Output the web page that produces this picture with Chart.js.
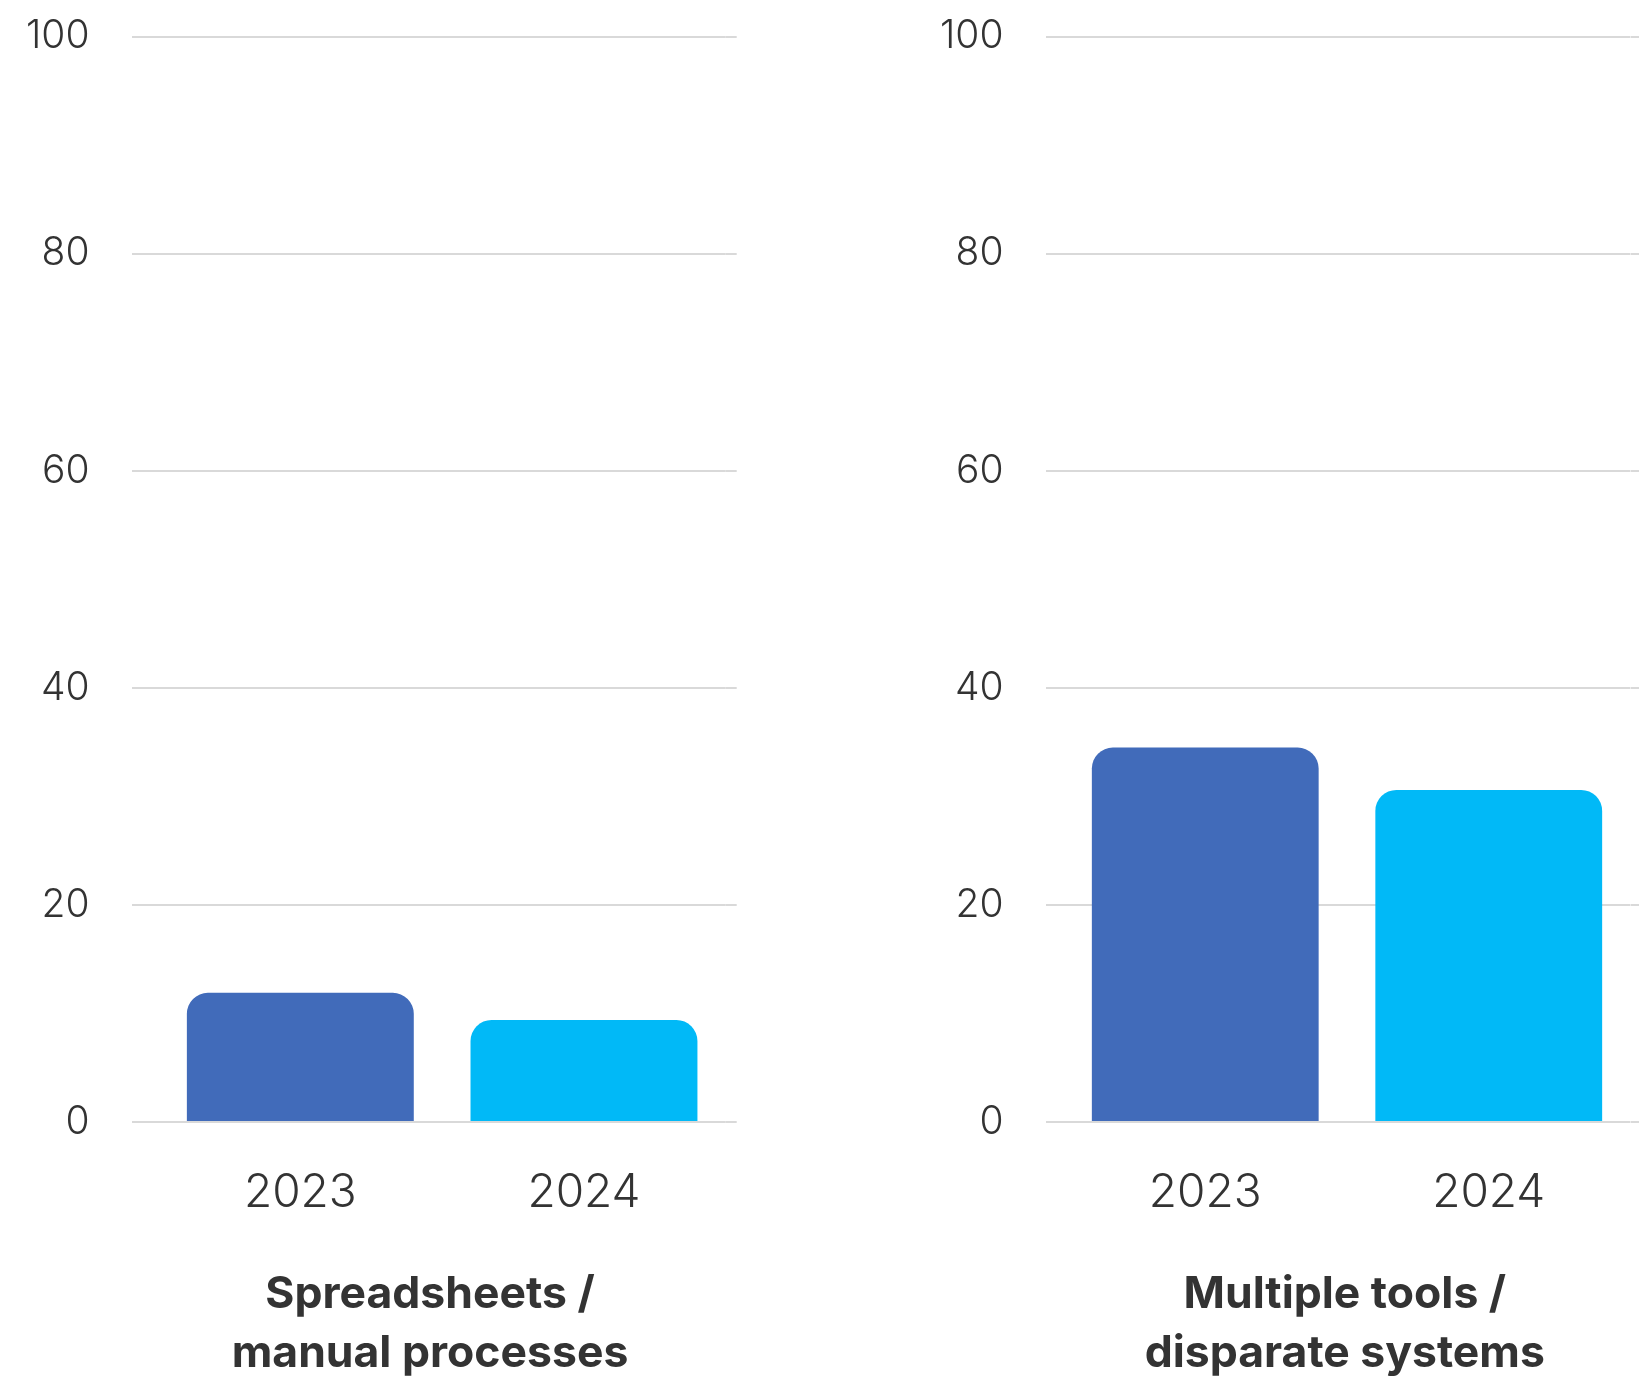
<!DOCTYPE html>
<html lang="en">
<head>
  <meta charset="UTF-8" />
  <title>Tool usage by year</title>
  <script src="https://cdn.jsdelivr.net/npm/chart.js"></script>
  <style>
    html, body { margin: 0; padding: 0; background: #fff; overflow: hidden; }
    body { width: 1639px; height: 1378px; position: relative; }
    canvas { position: absolute; top: 0; }
    #panelLeft { left: 0; }
    #panelRight { left: 914px; }
  </style>
</head>
<body>
  <canvas id="panelLeft" width="862" height="1420"></canvas>
  <canvas id="panelRight" width="862" height="1420"></canvas>

  <script>
    const years = ["2023", "2024"];
    const spreadsheetShare = [11.9, 9.4];
    const multiToolShare = [34.5, 30.6];
    const spreadsheetTitle = ["Spreadsheets /", "manual processes"];
    const multiToolTitle = ["Multiple tools /", "disparate systems"];
    const yMin = 0, yMax = 100, yStep = 20;

    const barColors = ["#416bba", "#01b9f7"];
    const textColor = "#333333";
    const gridColor = "#d9d9d9";
    const fontFamily = "Inter, 'Open Sans', sans-serif";

    // g: plot area edges, where grid lines start, title centre (canvas px)
    function makePanel(id, values, title, g) {
      const canvas = document.getElementById(id);
      const W = canvas.width;
      const H = canvas.height;
      const xAxisH = 97;
      const titleFont = { family: fontFamily, size: 44.5, weight: "700", lineHeight: 1.326 };
      const titleTop = 45.8;
      const titleH = titleTop + title.length * titleFont.size * titleFont.lineHeight;
      const plotBottom = 1122;
      const plotTop = 36.7;

      return new Chart(canvas, {
        type: "bar",
        data: {
          labels: years,
          datasets: [{
            data: values,
            backgroundColor: barColors,
            borderWidth: 0,
            borderRadius: 21,
            borderSkipped: "start",
            barPercentage: 0.8,
            categoryPercentage: 1
          }]
        },
        options: {
          responsive: false,
          animation: false,
          layout: {
            padding: {
              top: plotTop,
              bottom: H - plotBottom - xAxisH - titleH,
              left: 0,
              right: W - 2 * g.titleCenter
            }
          },
          plugins: {
            legend: { display: false },
            tooltip: { enabled: false },
            title: {
              display: true,
              position: "bottom",
              text: title,
              color: textColor,
              font: titleFont,
              padding: { top: titleTop, bottom: 0 }
            }
          },
          scales: {
            x: {
              type: "category",
              offset: true,
              grid: { display: false, drawTicks: false },
              border: { display: false },
              ticks: {
                color: textColor,
                padding: 43.3,
                font: { family: fontFamily, size: 46, weight: "300" }
              },
              afterFit: s => { s.height = xAxisH; }
            },
            y: {
              min: yMin,
              max: yMax,
              position: "left",
              border: { display: false },
              grid: { color: gridColor, lineWidth: 2, drawTicks: true, tickLength: g.plotLeft - g.gridStart },
              ticks: {
                stepSize: yStep,
                color: textColor,
                padding: g.gridStart - 89.5,
                font: { family: fontFamily, size: 39, weight: "300" }
              },
              afterFit: s => {
                s.width = g.plotLeft;
                s.paddingTop = 20;
                s.paddingBottom = 20;
              }
            },
            // right-hand stub so the grid lines run a little past the last bar
            yEdge: {
              min: yMin,
              max: yMax,
              position: "right",
              border: { display: false },
              grid: {
                color: gridColor, lineWidth: 2,
                drawOnChartArea: false, drawTicks: true,
                tickLength: g.gridEnd - g.plotRight
              },
              ticks: { stepSize: yStep, display: false },
              afterFit: s => {
                s.width = 2 * g.titleCenter - g.plotRight;
                s.paddingTop = 0;
                s.paddingBottom = 0;
              }
            }
          }
        }
      });
    }

    makePanel("panelLeft", spreadsheetShare, spreadsheetTitle,
      { plotLeft: 158.5, plotRight: 725.8, gridStart: 132, gridEnd: 736.7, titleCenter: 430 });
    makePanel("panelRight", multiToolShare, multiToolTitle,
      { plotLeft: 149.5, plotRight: 716.5, gridStart: 132, gridEnd: 727.5, titleCenter: 430.8 });
  </script>
</body>
</html>
